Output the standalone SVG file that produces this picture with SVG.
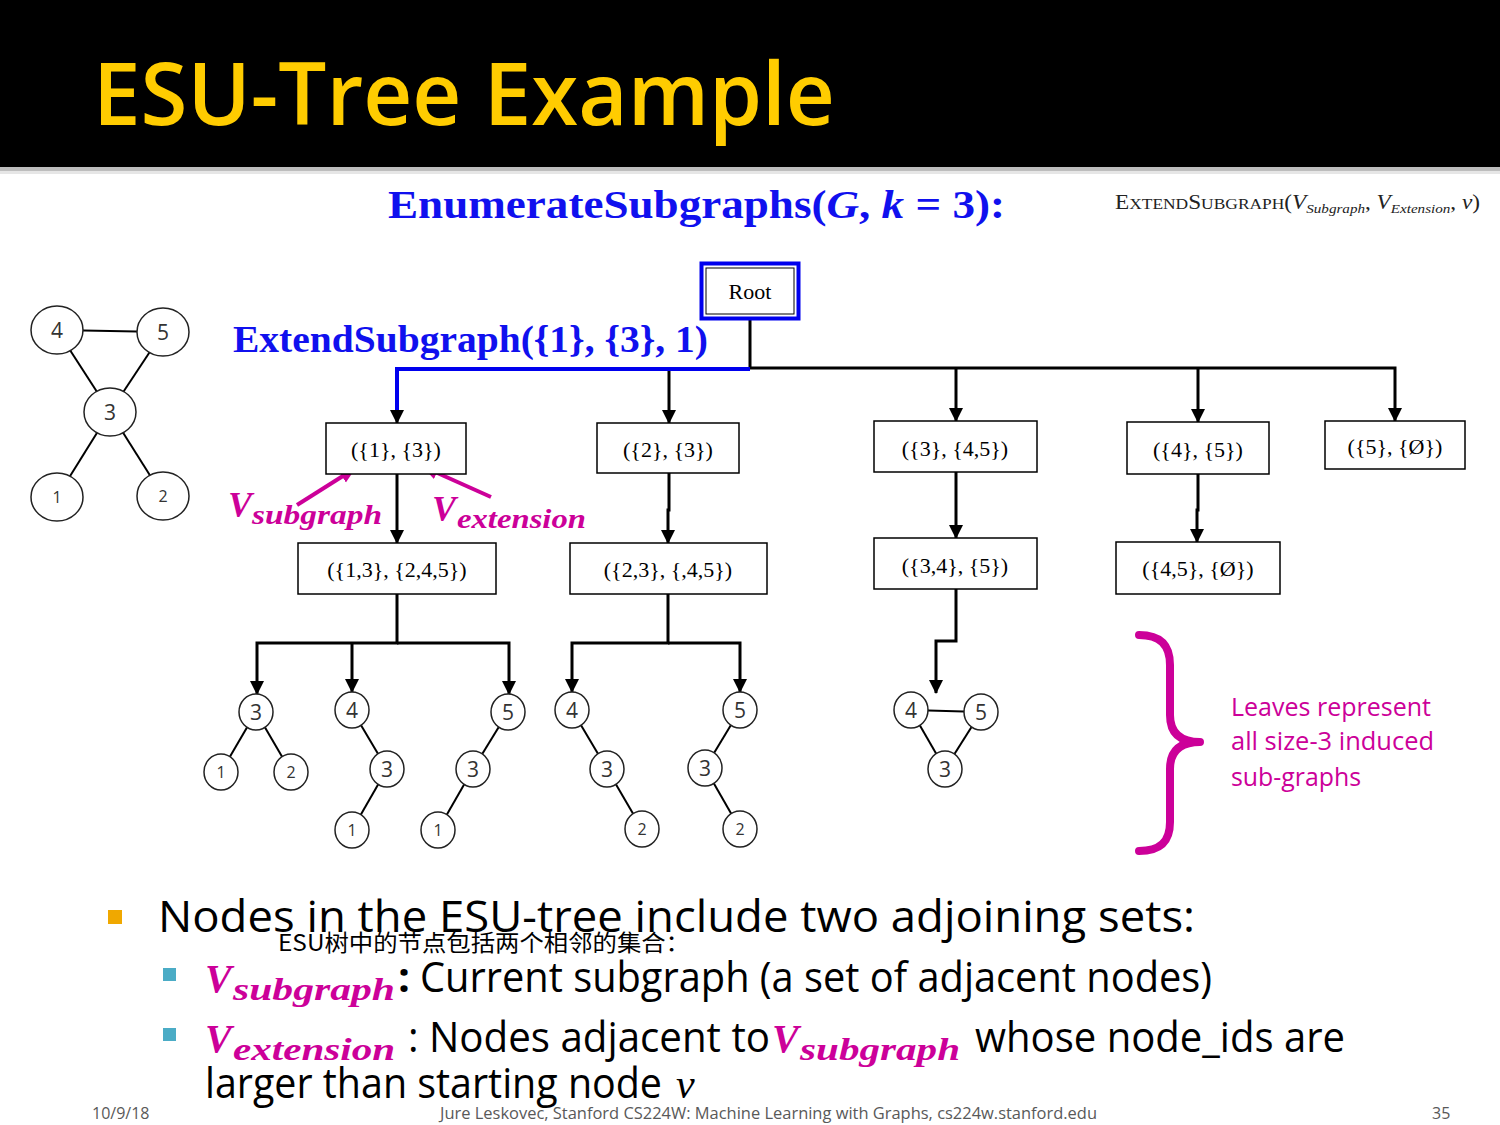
<svg xmlns="http://www.w3.org/2000/svg" width="1500" height="1125" viewBox="0 0 1500 1125">
<style>
.box{fill:#fff;stroke:#000;stroke-width:1.5}
.bt{font-family:"Liberation Serif","Times New Roman",serif;font-size:22px;text-anchor:middle;fill:#000}
.con{fill:none;stroke:#000;stroke-width:3}
.circ{fill:#fff;stroke:#222;stroke-width:1.5}
.edge{stroke:#000;stroke-width:2}
.nl{font-family:"Open Sans","Noto Sans",sans-serif;font-size:21px;text-anchor:middle;fill:#333}
.ns{font-family:"Open Sans","Noto Sans",sans-serif;font-size:16px;text-anchor:middle;fill:#333}
.mv{font-family:"Liberation Serif","Times New Roman",serif;font-style:italic;font-weight:bold;fill:#CC0099}
.body{font-family:"Open Sans","Noto Sans",sans-serif;fill:#000}
.foot{font-family:"Open Sans","Noto Sans",sans-serif;font-size:16px;fill:#595959}
</style>
<defs>
<marker id="ah" markerUnits="userSpaceOnUse" markerWidth="14" markerHeight="14" refX="13" refY="7" orient="auto" viewBox="0 0 14 14">
<path d="M0,0 L14,7 L0,14 z" fill="#000"/>
</marker>
<marker id="mh" markerUnits="userSpaceOnUse" markerWidth="16" markerHeight="16" refX="14" refY="8" orient="auto" viewBox="0 0 16 16">
<path d="M0,1 L16,8 L0,15 z" fill="#CC0099"/>
</marker>
</defs>
<rect width="1500" height="1125" fill="#fff"/>
<!-- title bar -->
<rect x="0" y="0" width="1500" height="167" fill="#000"/>
<rect x="0" y="167" width="1500" height="4" fill="#bdbdbd"/>
<rect x="0" y="171" width="1500" height="3" fill="#e6e6e6"/>
<text x="93" y="125" font-family="'Open Sans','Noto Sans',sans-serif" font-weight="600" font-size="86" fill="#FFCC00" textLength="742" lengthAdjust="spacingAndGlyphs">ESU-Tree Example</text>

<text x="388" y="218" font-family="'Liberation Serif','Times New Roman',serif" font-weight="bold" font-size="39" fill="#1010EE" textLength="617" lengthAdjust="spacingAndGlyphs">EnumerateSubgraphs(<tspan font-style="italic">G</tspan>, <tspan font-style="italic">k</tspan> = 3):</text>
<text x="1115" y="209" font-family="'Liberation Serif','Times New Roman',serif" font-size="20" fill="#222" textLength="365" lengthAdjust="spacingAndGlyphs">E<tspan font-size="15">XTEND</tspan>S<tspan font-size="15">UBGRAPH</tspan>(<tspan font-style="italic">V</tspan><tspan font-style="italic" font-size="13" dy="4">Subgraph</tspan><tspan dy="-4">, </tspan><tspan font-style="italic">V</tspan><tspan font-style="italic" font-size="13" dy="4">Extension</tspan><tspan dy="-4">, </tspan><tspan font-style="italic">v</tspan>)</text>

<text x="233" y="352" font-family="'Liberation Serif','Times New Roman',serif" font-weight="bold" font-size="37" fill="#1010EE" textLength="475" lengthAdjust="spacingAndGlyphs">ExtendSubgraph({1}, {3}, 1)</text>

<!-- input graph -->
<g id="input-graph">
<line class="edge" x1="57" y1="330" x2="163" y2="332"/>
<line class="edge" x1="57" y1="330" x2="110" y2="412"/>
<line class="edge" x1="163" y1="332" x2="110" y2="412"/>
<line class="edge" x1="110" y1="412" x2="57" y2="497"/>
<line class="edge" x1="110" y1="412" x2="163" y2="496"/>
<ellipse class="circ" cx="57" cy="330" rx="26" ry="24"/><text class="nl" x="57" y="338">4</text>
<ellipse class="circ" cx="163" cy="332" rx="26" ry="24"/><text class="nl" x="163" y="340">5</text>
<ellipse class="circ" cx="110" cy="412" rx="26" ry="24"/><text class="nl" x="110" y="420">3</text>
<ellipse class="circ" cx="57" cy="497" rx="26" ry="24"/><text class="ns" x="57" y="503">1</text>
<ellipse class="circ" cx="163" cy="496" rx="26" ry="24"/><text class="ns" x="163" y="502">2</text>
</g>

<!-- connectors -->
<g id="connectors">
<path class="con" d="M750,320 V368 H1395 V421" marker-end="url(#ah)"/>
<path class="con" d="M669,368 V423" marker-end="url(#ah)"/>
<path class="con" d="M956,368 V421" marker-end="url(#ah)"/>
<path class="con" d="M1198,368 V422" marker-end="url(#ah)"/>
<path d="M750,369 H397 V412" fill="none" stroke="#0000EE" stroke-width="4"/>
<path class="con" d="M397,410 V423" marker-end="url(#ah)"/>
<path class="con" d="M397,474 V543" marker-end="url(#ah)"/>
<path class="con" d="M669,473 V510 H668 V543" marker-end="url(#ah)"/>
<path class="con" d="M956,472 V538" marker-end="url(#ah)"/>
<path class="con" d="M1198,474 V510 H1197 V542" marker-end="url(#ah)"/>
<path class="con" d="M397,594 V643 H257 V694" marker-end="url(#ah)"/>
<path class="con" d="M352,643 V692" marker-end="url(#ah)"/>
<path class="con" d="M397,643 H509 V694" marker-end="url(#ah)"/>
<path class="con" d="M668,594 V643 H572 V692" marker-end="url(#ah)"/>
<path class="con" d="M668,643 H740 V692" marker-end="url(#ah)"/>
<path class="con" d="M956,589 V641 H936 V693" marker-end="url(#ah)"/>
<line x1="297" y1="505" x2="354" y2="469" stroke="#CC0099" stroke-width="4" marker-end="url(#mh)"/>
<line x1="491" y1="497" x2="424" y2="467" stroke="#CC0099" stroke-width="4" marker-end="url(#mh)"/>
</g>

<!-- root -->
<g id="root">
<rect x="701.5" y="263.5" width="97" height="55" fill="#fff" stroke="#0000EE" stroke-width="4"/>
<rect x="706" y="268" width="88" height="46" fill="none" stroke="#000" stroke-width="1"/>
<text class="bt" x="750" y="299">Root</text>
</g>

<g id="n1"><rect class="box" x="326" y="423" width="140" height="51"/><text class="bt" x="396" y="457">({1}, {3})</text></g>
<g id="n2"><rect class="box" x="597" y="423" width="142" height="50"/><text class="bt" x="668" y="457">({2}, {3})</text></g>
<g id="n3"><rect class="box" x="874" y="421" width="163" height="51"/><text class="bt" x="955" y="456">({3}, {4,5})</text></g>
<g id="n4"><rect class="box" x="1127" y="422" width="142" height="52"/><text class="bt" x="1198" y="457">({4}, {5})</text></g>
<g id="n5"><rect class="box" x="1325" y="421" width="140" height="48"/><text class="bt" x="1395" y="454">({5}, {Ø})</text></g>
<g id="n13"><rect class="box" x="298" y="543" width="198" height="51"/><text class="bt" x="397" y="577">({1,3}, {2,4,5})</text></g>
<g id="n23"><rect class="box" x="570" y="543" width="197" height="51"/><text class="bt" x="668" y="577">({2,3}, {,4,5})</text></g>
<g id="n34"><rect class="box" x="874" y="538" width="163" height="51"/><text class="bt" x="955" y="573">({3,4}, {5})</text></g>
<g id="n45"><rect class="box" x="1116" y="542" width="164" height="52"/><text class="bt" x="1198" y="576">({4,5}, {Ø})</text></g>

<!-- leaves -->
<g id="leaf-312">
<line class="edge" x1="256" y1="712" x2="221" y2="772"/><line class="edge" x1="256" y1="712" x2="291" y2="772"/>
<ellipse class="circ" cx="256" cy="712" rx="17" ry="18"/><text class="nl" x="256" y="720" font-size="20">3</text>
<ellipse class="circ" cx="221" cy="772" rx="17" ry="18"/><text class="ns" x="221" y="778">1</text>
<ellipse class="circ" cx="291" cy="772" rx="17" ry="18"/><text class="ns" x="291" y="778">2</text>
</g>
<g id="leaf-431">
<line class="edge" x1="352" y1="710" x2="387" y2="769"/><line class="edge" x1="387" y1="769" x2="352" y2="830"/>
<ellipse class="circ" cx="352" cy="710" rx="17" ry="18"/><text class="nl" x="352" y="718" font-size="20">4</text>
<ellipse class="circ" cx="387" cy="769" rx="17" ry="18"/><text class="nl" x="387" y="777" font-size="20">3</text>
<ellipse class="circ" cx="352" cy="830" rx="17" ry="18"/><text class="ns" x="352" y="836">1</text>
</g>
<g id="leaf-531">
<line class="edge" x1="508" y1="712" x2="473" y2="769"/><line class="edge" x1="473" y1="769" x2="438" y2="830"/>
<ellipse class="circ" cx="508" cy="712" rx="17" ry="18"/><text class="nl" x="508" y="720" font-size="20">5</text>
<ellipse class="circ" cx="473" cy="769" rx="17" ry="18"/><text class="nl" x="473" y="777" font-size="20">3</text>
<ellipse class="circ" cx="438" cy="830" rx="17" ry="18"/><text class="ns" x="438" y="836">1</text>
</g>
<g id="leaf-432">
<line class="edge" x1="572" y1="710" x2="607" y2="769"/><line class="edge" x1="607" y1="769" x2="642" y2="829"/>
<ellipse class="circ" cx="572" cy="710" rx="17" ry="18"/><text class="nl" x="572" y="718" font-size="20">4</text>
<ellipse class="circ" cx="607" cy="769" rx="17" ry="18"/><text class="nl" x="607" y="777" font-size="20">3</text>
<ellipse class="circ" cx="642" cy="829" rx="17" ry="18"/><text class="ns" x="642" y="835">2</text>
</g>
<g id="leaf-532">
<line class="edge" x1="740" y1="710" x2="705" y2="768"/><line class="edge" x1="705" y1="768" x2="740" y2="829"/>
<ellipse class="circ" cx="740" cy="710" rx="17" ry="18"/><text class="nl" x="740" y="718" font-size="20">5</text>
<ellipse class="circ" cx="705" cy="768" rx="17" ry="18"/><text class="nl" x="705" y="776" font-size="20">3</text>
<ellipse class="circ" cx="740" cy="829" rx="17" ry="18"/><text class="ns" x="740" y="835">2</text>
</g>
<g id="leaf-453">
<line class="edge" x1="911" y1="710" x2="981" y2="712"/><line class="edge" x1="911" y1="710" x2="945" y2="769"/><line class="edge" x1="981" y1="712" x2="945" y2="769"/>
<ellipse class="circ" cx="911" cy="710" rx="17" ry="18"/><text class="nl" x="911" y="718" font-size="20">4</text>
<ellipse class="circ" cx="981" cy="712" rx="17" ry="18"/><text class="nl" x="981" y="720" font-size="20">5</text>
<ellipse class="circ" cx="945" cy="769" rx="17" ry="18"/><text class="nl" x="945" y="777" font-size="20">3</text>
</g>

<!-- V labels -->
<text class="mv" x="228" y="517" font-size="36">V</text>
<text class="mv" x="252" y="524" font-size="27" textLength="130" lengthAdjust="spacingAndGlyphs">subgraph</text>
<text class="mv" x="432" y="521" font-size="36">V</text>
<text class="mv" x="457" y="528" font-size="27" textLength="129" lengthAdjust="spacingAndGlyphs">extension</text>

<!-- brace -->
<path d="M1139,635 C1160,635 1170,645 1170,665 L1170,715 C1170,733 1180,742 1200,742 C1180,742 1170,751 1170,769 L1170,822 C1170,842 1160,851 1139,851" fill="none" stroke="#CC0099" stroke-width="8" stroke-linecap="round" stroke-linejoin="round"/>
<g font-family="'Open Sans','Noto Sans',sans-serif" font-size="25" fill="#CC0099">
<text x="1231" y="716" textLength="200" lengthAdjust="spacingAndGlyphs">Leaves represent</text>
<text x="1231" y="750" textLength="203" lengthAdjust="spacingAndGlyphs">all size-3 induced</text>
<text x="1231" y="786" textLength="130" lengthAdjust="spacingAndGlyphs">sub-graphs</text>
</g>

<!-- bullets -->
<rect x="108" y="910" width="14" height="14" fill="#F0A800"/>
<text class="body" x="158" y="932" font-size="44" textLength="1037" lengthAdjust="spacingAndGlyphs">Nodes in the ESU-tree include two adjoining sets:</text>
<text x="278" y="951" font-family="'Noto Sans CJK SC','Noto Sans',sans-serif" font-size="23" fill="#000" textLength="412" lengthAdjust="spacingAndGlyphs">ESU树中的节点包括两个相邻的集合：</text>

<rect x="163" y="968" width="13" height="13" fill="#4BACC6"/>
<text class="mv" x="205" y="992" font-size="40">V</text>
<text class="mv" x="233" y="1000" font-size="32" textLength="162" lengthAdjust="spacingAndGlyphs">subgraph</text>
<text class="body" x="398" y="992" font-size="42" font-weight="bold">:</text>
<text class="body" x="420" y="992" font-size="42" textLength="792" lengthAdjust="spacingAndGlyphs">Current subgraph (a set of adjacent nodes)</text>

<rect x="163" y="1028" width="13" height="13" fill="#4BACC6"/>
<text class="mv" x="205" y="1052" font-size="40">V</text>
<text class="mv" x="233" y="1060" font-size="32" textLength="162" lengthAdjust="spacingAndGlyphs">extension</text>
<text class="body" x="408" y="1052" font-size="42" textLength="362" lengthAdjust="spacingAndGlyphs">: Nodes adjacent to</text>
<text class="mv" x="772" y="1052" font-size="40">V</text>
<text class="mv" x="800" y="1060" font-size="32" textLength="160" lengthAdjust="spacingAndGlyphs">subgraph</text>
<text class="body" x="975" y="1052" font-size="42" textLength="370" lengthAdjust="spacingAndGlyphs">whose node_ids are</text>
<text class="body" x="205" y="1098" font-size="42" textLength="457" lengthAdjust="spacingAndGlyphs">larger than starting node</text>
<text x="676" y="1098" font-family="'Liberation Serif','Times New Roman',serif" font-style="italic" font-size="42" fill="#000">v</text>

<!-- footer -->
<text class="foot" x="92" y="1119">10/9/18</text>
<text class="foot" x="440" y="1119" textLength="657" lengthAdjust="spacingAndGlyphs">Jure Leskovec, Stanford CS224W: Machine Learning with Graphs, cs224w.stanford.edu</text>
<text class="foot" x="1432" y="1119">35</text>
</svg>
